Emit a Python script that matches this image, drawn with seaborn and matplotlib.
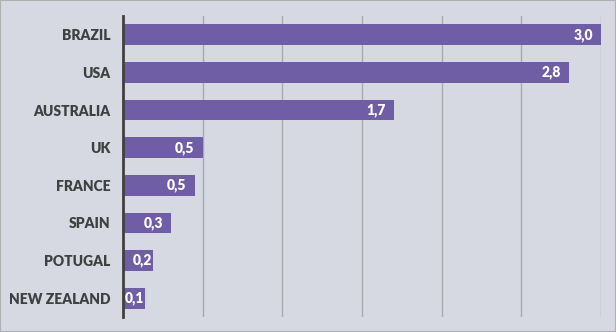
import matplotlib
matplotlib.use("Agg")
import matplotlib.pyplot as plt
import seaborn as sns
import pandas as pd

countries = ["BRAZIL", "USA", "AUSTRALIA", "UK", "FRANCE", "SPAIN", "POTUGAL", "NEW ZEALAND"]
values = [3.0, 2.8, 1.7, 0.5, 0.45, 0.3, 0.19, 0.14]

df = pd.DataFrame({"country": countries, "value": values})

sns.set_theme(style="white")
plt.rcParams["font.family"] = ["Lato", "DejaVu Sans"]

bg = "#D6D9E2"
fig = plt.figure(figsize=(6.16, 3.32), dpi=100, facecolor=bg)
ax = fig.add_axes([123/616, 15/332, 478/616, 301/332])
ax.set_facecolor(bg)

sns.barplot(data=df, x="value", y="country", orient="h", color="#6F5DA6",
            saturation=1, width=0.55, linewidth=0, edgecolor="none", ax=ax)

ax.set_xlim(0, 3.0)
ax.set_xticks([0.5, 1.0, 1.5, 2.0, 2.5, 3.0])
ax.xaxis.grid(True, color="#A8AAB0", linewidth=1)
ax.set_axisbelow(True)
ax.tick_params(axis="x", length=0, labelbottom=False)
ax.tick_params(axis="y", length=0, pad=9)
ax.set_xlabel("")
ax.set_ylabel("")
for lbl in ax.get_yticklabels():
    lbl.set_fontweight("heavy")
    lbl.set_fontsize(10)
    lbl.set_color("#404040")

for s in ["top", "right", "bottom"]:
    ax.spines[s].set_visible(False)
ax.spines["left"].set_color("#404040")
ax.spines["left"].set_linewidth(2)

for i, v in enumerate(values):
    xr = v - 0.05
    if xr - 0.115 < 0.06:
        xr = max(v - 0.006, 0.134)
    ax.text(xr, i, f"{v:.1f}".replace(".", ","), ha="right", va="center",
            color="white", fontweight="heavy", fontsize=10)

# outer border
fig.patches.append(plt.Rectangle((0, 0), 1, 1, transform=fig.transFigure,
                                 fill=False, edgecolor="#B0B0B0", linewidth=1.5))

fig.savefig("out.png", dpi=100, facecolor=bg)
